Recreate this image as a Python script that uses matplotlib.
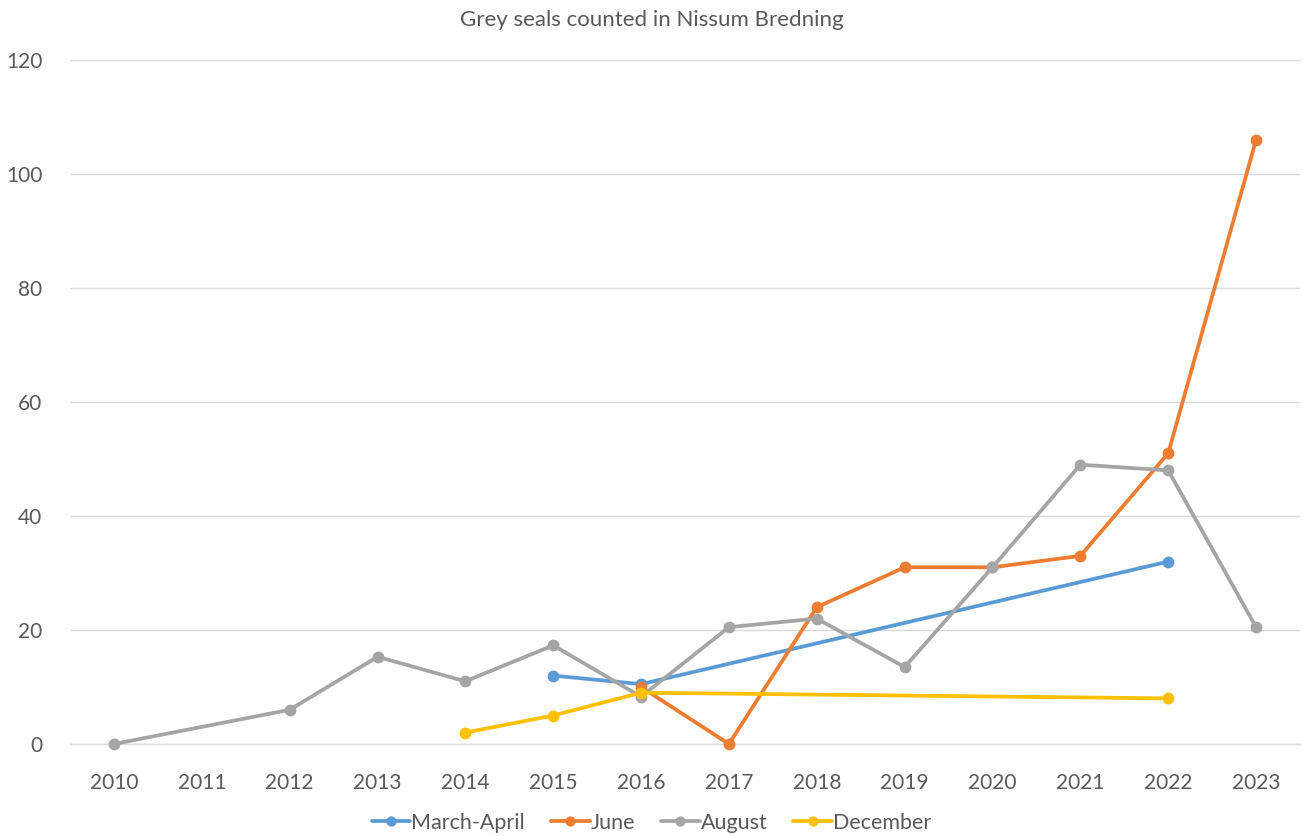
import numpy as np
import matplotlib
matplotlib.use("Agg")
import matplotlib.pyplot as plt

plt.rcParams["font.family"] = ["Lato", "DejaVu Sans"]

years = [2010, 2011, 2012, 2013, 2014, 2015, 2016, 2017, 2018, 2019, 2020, 2021, 2022, 2023]
march_april = [None, None, None, None, None, 12, 10.5, None, None, None, None, None, 32, None]
june = [None, None, None, None, None, None, 10, 0, 24, 31, 31, 33, 51, 106]
august = [0, None, 6, 15.3, 11, 17.3, 8.3, 20.5, 22, 13.5, 31, 49, 48, 20.5]
december = [None, None, None, None, 2, 5, 9, None, None, None, None, None, 8, None]

series = [
    ("March-April", march_april, "#5B9BD5"),
    ("June", june, "#ED7D31"),
    ("August", august, "#A5A5A5"),
    ("December", december, "#FFC000"),
]

TEXT = "#595959"

fig = plt.figure(figsize=(13.03, 8.36), dpi=100)
ax = fig.add_axes([70 / 1303, 1 - 744 / 836, 1230 / 1303, (744 - 60) / 836])

x_all = np.arange(len(years))
for name, vals, color in series:
    # Excel joins across empty cells, so skip the gaps
    pts = [(i, v) for i, v in zip(x_all, vals) if v is not None]
    xs = [p[0] for p in pts]
    ys = [p[1] for p in pts]
    ax.plot(xs, ys, color=color, lw=2.7, marker="o", ms=7.5,
            solid_capstyle="round", label=name, clip_on=False, zorder=3)

ax.set_xlim(-0.5, len(years) - 0.5)
ax.set_ylim(0, 120)
ax.set_yticks(range(0, 121, 20))
ax.set_xticks(x_all)
ax.set_xticklabels([str(y) for y in years])

ax.grid(axis="y", color="#D9D9D9", lw=1)
ax.set_axisbelow(True)
for side in ["top", "right", "left"]:
    ax.spines[side].set_visible(False)
ax.spines["bottom"].set_color("#D9D9D9")
ax.spines["bottom"].set_linewidth(1)
ax.tick_params(axis="both", length=0, labelsize=15, colors=TEXT)
ax.tick_params(axis="x", pad=21)
ax.tick_params(axis="y", pad=20)

fig.text(0.5, 1 - 20 / 836, "Grey seals counted in Nissum Bredning",
         ha="center", va="center", fontsize=16, color=TEXT)

fig.legend(loc="center", bbox_to_anchor=(0.5, 1 - 823 / 836), ncol=4,
           frameon=False, fontsize=15.5, labelcolor=TEXT, handlelength=1.8,
           handletextpad=0.05, columnspacing=1.2, markerscale=0.85)

fig.savefig("out.png", dpi=100)
